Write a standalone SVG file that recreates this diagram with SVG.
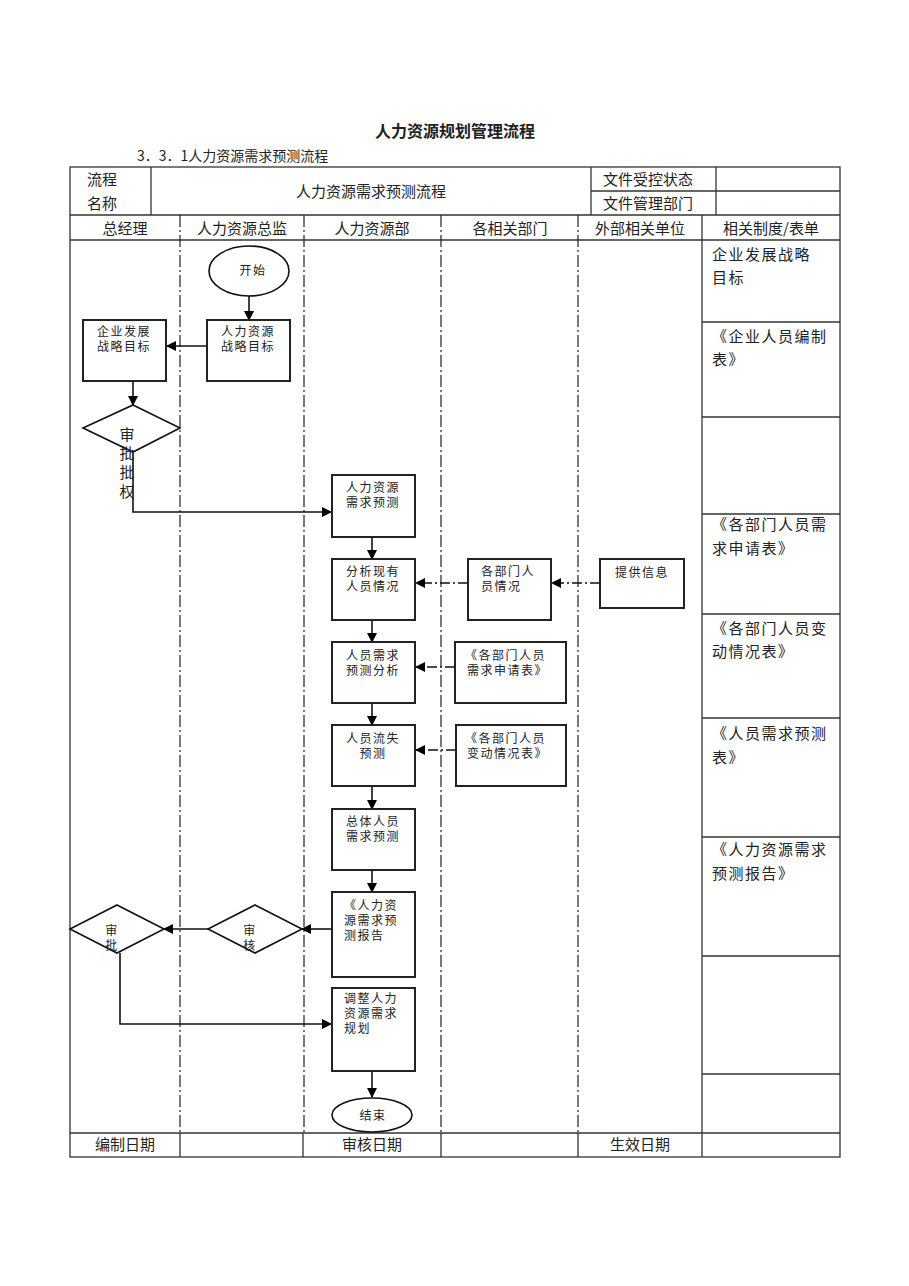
<svg xmlns="http://www.w3.org/2000/svg" width="909" height="1286" viewBox="0 0 909 1286">
<defs>
<marker id="ah" markerWidth="10" markerHeight="10" refX="9" refY="5" orient="auto" markerUnits="userSpaceOnUse">
<path d="M0,0 L10,5 L0,10 Z" fill="#000"/>
</marker>
<style>
.t{font-family:"Noto Sans CJK SC","Liberation Serif",sans-serif;fill:#222}
.h{font-size:15px}
.b{font-size:12px;letter-spacing:1.5px}
.r{font-size:15px;letter-spacing:1.5px}
.grid{stroke:#333;stroke-width:1.3;fill:none}
.lane{stroke:#222;stroke-width:1.2;stroke-dasharray:12 3 2 3;fill:none}
.box{fill:#fff;stroke:#222;stroke-width:2}
.shape{fill:#fff;stroke:#111;stroke-width:1.6}
.con{stroke:#111;stroke-width:1.6;fill:none;marker-end:url(#ah)}
.dd{stroke:#111;stroke-width:1.4;fill:none;stroke-dasharray:10 3 2 3;marker-end:url(#ah)}
</style>
</defs>
<rect width="909" height="1286" fill="#fff"/>

<g id="title">
<text class="t" x="455" y="137" text-anchor="middle" font-size="16" font-weight="bold" fill="#000">人力资源规划管理流程</text>
<text class="t" x="137" y="161" font-size="14">3．3．1人力资源需求预测流程</text>
</g>

<g id="table">
<rect class="grid" x="70" y="167" width="770" height="990"/>
<line class="grid" x1="151" y1="167" x2="151" y2="215"/>
<line class="grid" x1="591" y1="167" x2="591" y2="215"/>
<line class="grid" x1="716" y1="167" x2="716" y2="215"/>
<line class="grid" x1="591" y1="191" x2="840" y2="191"/>
<line class="grid" x1="70" y1="215" x2="840" y2="215"/>
<line class="grid" x1="70" y1="240" x2="840" y2="240"/>
<line class="grid" x1="70" y1="1133" x2="840" y2="1133"/>
<line class="grid" x1="702" y1="215" x2="702" y2="1157"/>
<line class="grid" x1="180" y1="1133" x2="180" y2="1157"/>
<line class="grid" x1="303" y1="1133" x2="303" y2="1157"/>
<line class="grid" x1="441" y1="1133" x2="441" y2="1157"/>
<line class="grid" x1="578" y1="1133" x2="578" y2="1157"/>
<line class="lane" x1="180" y1="215" x2="180" y2="1133"/>
<line class="lane" x1="304" y1="215" x2="304" y2="1133"/>
<line class="lane" x1="441" y1="215" x2="441" y2="1133"/>
<line class="lane" x1="578" y1="215" x2="578" y2="1133"/>
<line class="grid" x1="702" y1="322" x2="840" y2="322"/>
<line class="grid" x1="702" y1="417" x2="840" y2="417"/>
<line class="grid" x1="702" y1="514" x2="840" y2="514"/>
<line class="grid" x1="702" y1="614" x2="840" y2="614"/>
<line class="grid" x1="702" y1="718" x2="840" y2="718"/>
<line class="grid" x1="702" y1="837" x2="840" y2="837"/>
<line class="grid" x1="702" y1="956" x2="840" y2="956"/>
<line class="grid" x1="702" y1="1074" x2="840" y2="1074"/>
<text class="t h" x="87" y="185">流程</text>
<text class="t h" x="87" y="209">名称</text>
<text class="t h" x="371" y="197" text-anchor="middle">人力资源需求预测流程</text>
<text class="t h" x="648" y="185" text-anchor="middle">文件受控状态</text>
<text class="t h" x="648" y="209" text-anchor="middle">文件管理部门</text>
<text class="t h" x="125" y="234" text-anchor="middle">总经理</text>
<text class="t h" x="242" y="234" text-anchor="middle">人力资源总监</text>
<text class="t h" x="372" y="234" text-anchor="middle">人力资源部</text>
<text class="t h" x="510" y="234" text-anchor="middle">各相关部门</text>
<text class="t h" x="640" y="234" text-anchor="middle">外部相关单位</text>
<text class="t h" x="771" y="234" text-anchor="middle">相关制度/表单</text>
<text class="t r" x="712" y="260">企业发展战略</text>
<text class="t r" x="712" y="283">目标</text>
<text class="t r" x="712" y="342">《企业人员编制</text>
<text class="t r" x="712" y="365">表》</text>
<text class="t r" x="712" y="530">《各部门人员需</text>
<text class="t r" x="712" y="554">求申请表》</text>
<text class="t r" x="712" y="634">《各部门人员变</text>
<text class="t r" x="712" y="657">动情况表》</text>
<text class="t r" x="712" y="739">《人员需求预测</text>
<text class="t r" x="712" y="763">表》</text>
<text class="t r" x="712" y="855">《人力资源需求</text>
<text class="t r" x="712" y="879">预测报告》</text>
<text class="t h" x="125" y="1150" text-anchor="middle">编制日期</text>
<text class="t h" x="372" y="1150" text-anchor="middle">审核日期</text>
<text class="t h" x="640" y="1150" text-anchor="middle">生效日期</text>
</g>

<g id="connectors">
<line class="con" x1="249" y1="296" x2="249" y2="320"/>
<line class="con" x1="207" y1="346" x2="167" y2="346"/>
<line class="con" x1="133" y1="381" x2="133" y2="405"/>
<polyline class="con" points="133,452 133,512 331,512"/>
<line class="con" x1="372" y1="537" x2="372" y2="559"/>
<line class="dd" x1="600" y1="583" x2="552" y2="583"/>
<line class="dd" x1="468" y1="583" x2="416" y2="583"/>
<line class="con" x1="372" y1="620" x2="372" y2="642"/>
<line class="dd" x1="455" y1="667" x2="416" y2="667"/>
<line class="con" x1="372" y1="703" x2="372" y2="725"/>
<line class="dd" x1="456" y1="750" x2="416" y2="750"/>
<line class="con" x1="372" y1="786" x2="372" y2="809"/>
<line class="con" x1="372" y1="870" x2="372" y2="892"/>
<line class="con" x1="332" y1="929" x2="302" y2="929"/>
<line class="con" x1="208" y1="929" x2="164" y2="929"/>
<polyline class="con" points="120,953 120,1024 331,1024"/>
<line class="con" x1="372" y1="1071" x2="372" y2="1097"/>
</g>

<g id="start">
<ellipse class="shape" cx="249" cy="271" rx="40" ry="25"/>
<text class="t b" x="253" y="275" text-anchor="middle">开始</text>
</g>
<g id="hr_strategy">
<rect class="box" x="207" y="320" width="83" height="61"/>
<text class="t b" x="248" y="336" text-anchor="middle">人力资源</text>
<text class="t b" x="248" y="351" text-anchor="middle">战略目标</text>
</g>
<g id="corp_strategy">
<rect class="box" x="83" y="320" width="83" height="61"/>
<text class="t b" x="124" y="336" text-anchor="middle">企业发展</text>
<text class="t b" x="124" y="351" text-anchor="middle">战略目标</text>
</g>
<g id="approve1">
<polygon class="shape" points="133,405 180,428 133,452 83,428"/>
<text class="t" font-size="15" x="127" y="440" text-anchor="middle">审</text>
<text class="t" font-size="15" x="127" y="459" text-anchor="middle">批</text>
<text class="t" font-size="15" x="127" y="478" text-anchor="middle">批</text>
<text class="t" font-size="15" x="127" y="497" text-anchor="middle">权</text>
</g>
<g id="hr_forecast">
<rect class="box" x="332" y="475" width="83" height="62"/>
<text class="t b" x="373" y="492" text-anchor="middle">人力资源</text>
<text class="t b" x="373" y="507" text-anchor="middle">需求预测</text>
</g>
<g id="analyze">
<rect class="box" x="332" y="559" width="83" height="61"/>
<text class="t b" x="373" y="576" text-anchor="middle">分析现有</text>
<text class="t b" x="373" y="591" text-anchor="middle">人员情况</text>
</g>
<g id="dept_staff">
<rect class="box" x="468" y="559" width="83" height="61"/>
<text class="t b" x="481" y="576" letter-spacing="4">各部门人</text>
<text class="t b" x="481" y="591">员情况</text>
</g>
<g id="provide_info">
<rect class="box" x="600" y="559" width="84" height="49"/>
<text class="t b" x="642" y="577" text-anchor="middle">提供信息</text>
</g>
<g id="demand_analysis">
<rect class="box" x="332" y="642" width="83" height="61"/>
<text class="t b" x="373" y="660" text-anchor="middle">人员需求</text>
<text class="t b" x="373" y="675" text-anchor="middle">预测分析</text>
</g>
<g id="dept_request">
<rect class="box" x="455" y="642" width="111" height="61"/>
<text class="t b" x="465" y="660" letter-spacing="3">《各部门人员</text>
<text class="t b" x="467" y="675">需求申请表》</text>
</g>
<g id="attrition">
<rect class="box" x="332" y="725" width="83" height="61"/>
<text class="t b" x="373" y="743" text-anchor="middle">人员流失</text>
<text class="t b" x="373" y="758" text-anchor="middle">预测</text>
</g>
<g id="dept_change">
<rect class="box" x="456" y="725" width="110" height="61"/>
<text class="t b" x="465" y="743" letter-spacing="3">《各部门人员</text>
<text class="t b" x="467" y="758">变动情况表》</text>
</g>
<g id="total_forecast">
<rect class="box" x="332" y="809" width="83" height="61"/>
<text class="t b" x="373" y="826" text-anchor="middle">总体人员</text>
<text class="t b" x="373" y="841" text-anchor="middle">需求预测</text>
</g>
<g id="report">
<rect class="box" x="332" y="892" width="83" height="85"/>
<text class="t b" x="344" y="910" letter-spacing="3">《人力资</text>
<text class="t b" x="344" y="925" letter-spacing="3">源需求预</text>
<text class="t b" x="344" y="940">测报告</text>
</g>
<g id="review">
<polygon class="shape" points="255,905 302,929 255,953 208,929"/>
<text class="t b" x="250" y="935" text-anchor="middle">审</text>
<text class="t b" x="250" y="950" text-anchor="middle">核</text>
</g>
<g id="approve2">
<polygon class="shape" points="117,905 164,929 117,953 70,929"/>
<text class="t b" x="112" y="935" text-anchor="middle">审</text>
<text class="t b" x="112" y="950" text-anchor="middle">批</text>
</g>
<g id="adjust">
<rect class="box" x="332" y="988" width="83" height="83"/>
<text class="t b" x="344" y="1003" letter-spacing="4">调整人力</text>
<text class="t b" x="344" y="1018" letter-spacing="4">资源需求</text>
<text class="t b" x="344" y="1033">规划</text>
</g>
<g id="end">
<ellipse class="shape" cx="372" cy="1115" rx="40" ry="17"/>
<text class="t b" x="373" y="1120" text-anchor="middle">结束</text>
</g>
</svg>
